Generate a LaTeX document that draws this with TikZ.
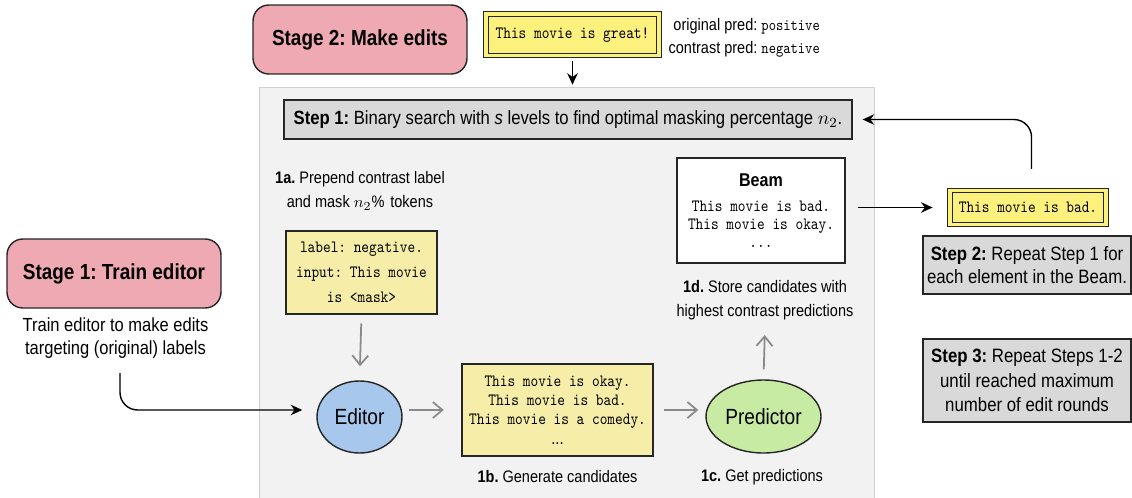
\documentclass[tikz,border=0pt]{standalone}
\usepackage{fontspec}
\setmainfont{Liberation Sans}[FakeStretch=0.87]
\setmonofont{lmmono10-regular.otf}[FakeStretch=0.85]
\usepackage{tikz}
\usetikzlibrary{arrows.meta,calc,positioning,shapes.geometric}
\definecolor{EdLine}{HTML}{262626}
\definecolor{EdPink}{HTML}{EFA9B2}
\definecolor{EdYellow}{HTML}{F6EEA8}
\definecolor{EdBright}{HTML}{FDF17E}
\definecolor{EdBlue}{HTML}{A7C7EC}
\definecolor{EdGreen}{HTML}{C8EBA3}
\definecolor{EdGrey}{HTML}{D9D9D9}
\definecolor{EdPanel}{HTML}{F2F2F2}
\definecolor{EdPanelLine}{HTML}{D0D0D0}
\definecolor{EdArrow}{HTML}{8A8A8A}
\frenchspacing

\begin{document}
\frenchspacing
\begin{tikzpicture}[
  x=0.02cm,y=-0.02cm,font=\fontsize{9.5}{14}\selectfont,>=Stealth,
  arrowK/.style={-{Stealth[length=2.3mm,width=2.1mm]},draw=black,line width=0.8pt},
  arrowG/.style={-{Straight Barb[length=1.9mm,width=3.2mm]},draw=EdArrow,line width=1pt},
  panel/.style={draw=EdPanelLine,fill=EdPanel,line width=0.6pt},
  stagebox/.style={draw=EdLine,fill=EdPink,rounded corners=9pt,line width=0.8pt,
    minimum width=4.28cm,minimum height=1.38cm,inner sep=0pt,
    font=\bfseries\fontsize{12.4}{14}\selectfont},
  stepbox/.style={draw=EdLine,fill=EdGrey,line width=0.8pt,inner sep=0pt,
    align=center,font=\fontsize{11}{13.5}\selectfont},
  sentbox/.style={draw=EdLine,fill=EdBright,double=EdBright,double distance=2.2pt,
    line width=0.6pt,inner sep=0pt,font=\ttfamily\fontsize{9.8}{11}\selectfont},
  codebox/.style={draw=EdLine,fill=EdYellow,line width=0.8pt,inner sep=0pt,
    align=center,font=\ttfamily\fontsize{9.8}{11}\selectfont},
  agent/.style={ellipse,draw=EdLine,line width=0.8pt,inner sep=0pt,
    font=\fontsize{12.5}{14}\selectfont},
  note/.style={align=center,font=\fontsize{9.5}{14}\selectfont}
]
\useasboundingbox (0,0) rectangle (1132,497);

% Stage 2 runs inside the shaded panel; the seed sentence enters from the top.
\node[panel,minimum width=12.32cm,minimum height=8.36cm] (panel) at (567,296) {};
\node[stagebox] (stage2) at (360,39.5) {Stage 2: Make edits};
\node[sentbox,minimum width=3.45cm,minimum height=0.83cm] (great) at (572.5,34.75)
  {This movie is great!};
\node[note,anchor=east,align=right,font=\fontsize{9.5}{13}\selectfont] (preds) at (826,37.5)
  {original pred: {\ttfamily\fontsize{9.3}{13}\selectfont positive}\\
   contrast pred: {\ttfamily\fontsize{9.3}{13}\selectfont negative}};
\draw[arrowK,shorten <=3pt,shorten >=1pt] (great.south) -- (great.south |- panel.north);

\node[stepbox,minimum width=11.36cm,minimum height=0.78cm,font=\fontsize{10.9}{13}\selectfont]
  (step1) at (568,119.5)
  {\textbf{Step 1:} Binary search with \textit{s} levels to find optimal masking percentage \(n_2\).};

% Inner loop: mask, edit, predict, keep the best.
\node[note] (l1a) at (360,190.5) {\textbf{1a.} Prepend contrast label\\and mask \(n_2\%\) tokens};
\node[codebox,minimum width=3.02cm,minimum height=1.66cm,
  font=\ttfamily\fontsize{9.8}{14.2}\selectfont] (mask) at (361.5,272.5)
  {label: negative.\\input: This movie\\is <mask>};
\node[agent,fill=EdBlue,minimum width=1.7cm,minimum height=1.44cm] (editor) at (359.5,417) {Editor};
\node[codebox,minimum width=3.82cm,minimum height=1.84cm] (cands) at (557.5,410)
  {This movie is okay.\\This movie is bad.\\This movie is a comedy.\\{\rmfamily ...}};
\node[agent,fill=EdGreen,minimum width=2.3cm,minimum height=1.46cm] (pred) at (763.5,416.5) {Predictor};
\node[note] (l1b) at (557.5,477) {\textbf{1b.} Generate candidates};
\node[note] (l1c) at (762,477) {\textbf{1c.} Get predictions};
\node[note] (l1d) at (765,300) {\textbf{1d.} Store candidates with\\highest contrast predictions};
\node[draw=EdLine,fill=white,line width=0.8pt,inner sep=0pt,align=center,
  minimum width=3.36cm,minimum height=2.1cm,font=\fontsize{9.8}{10.2}\selectfont] (beam) at (761,210.5)
  {{\bfseries\fontsize{10.5}{12}\selectfont Beam}\\[4pt]
   \texttt{This movie is bad.}\\\texttt{This movie is okay.}\\\texttt{...}};

\draw[arrowG,shorten <=5pt,shorten >=8pt] (mask.south) -- (editor.north);
\draw[arrowG,shorten <=3.4pt,shorten >=10pt] (cands.west -| editor.east) -- (cands.west);
\draw[arrowG,shorten <=5.7pt,shorten >=4pt] (cands.east) -- (cands.east -| pred.west);
\draw[arrowG,shorten <=5.7pt,shorten >=5pt] (pred.north) -- (l1d.south);

% Outer loop over the beam, then repeat rounds.
\node[sentbox,minimum width=3.13cm,minimum height=0.68cm] (bad) at (1028,207.5) {This movie is bad.};
\node[stepbox,minimum width=4.16cm,minimum height=1.16cm,font=\fontsize{11}{13}\selectfont] (step2)
  at (1027,265) {\textbf{Step 2:} Repeat Step 1 for\\each element in the Beam.};
\node[stepbox,minimum width=4.16cm,minimum height=1.66cm,font=\fontsize{11}{13.9}\selectfont] (step3)
  at (1027,380.5) {\textbf{Step 3:} Repeat Steps 1-2\\until reached maximum\\number of edit rounds};

\draw[arrowK,shorten <=6.8pt,shorten >=9.5pt] (bad.west -| beam.east) -- (bad.west);
\draw[arrowK,rounded corners=10pt,shorten <=12pt,shorten >=5.7pt]
  ([xshift=2pt]bad.north) |- (step1.east);

% Stage 1 trains the editor that Stage 2 uses.
\node[stagebox] (stage1) at (114,273.5) {Stage 1: Train editor};
\node[note,font=\fontsize{10.8}{13}\selectfont] (s1note) at (115.5,338.5)
  {Train editor to make edits\\targeting (original) labels};
\coordinate (s1out) at (120,373);
\draw[arrowK,rounded corners=10pt,shorten >=8pt] (s1out) |- ([yshift=4pt]editor.west);

\end{tikzpicture}
\end{document}
